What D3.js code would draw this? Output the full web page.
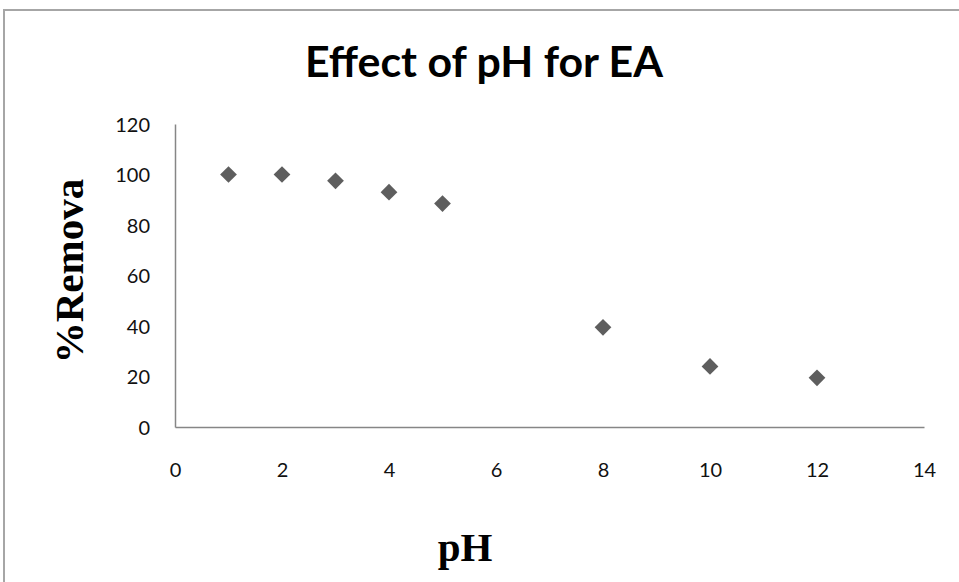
<!DOCTYPE html>
<html><head><meta charset="utf-8">
<script src="https://cdn.jsdelivr.net/npm/d3@7/dist/d3.min.js"></script>
<style>body{margin:0;background:#fff;overflow:hidden}svg{display:block}</style>
</head><body>
<script>
const phValues = [1, 2, 3, 4, 5, 8, 10, 12];
const removalValues = [100, 100, 97.5, 93, 88.5, 39.5, 24, 19.5];
const xTicks = [0, 2, 4, 6, 8, 10, 12, 14];
const yTicks = [0, 20, 40, 60, 80, 100, 120];
const titleText = "Effect of pH for EA";
const xLabel = "pH";
const yLabel = "%Remova";

const W = 959, H = 582;
const svg = d3.select("body").append("svg").attr("width", W).attr("height", H);

svg.append("rect").attr("x", 4).attr("y", 10).attr("width", 1000).attr("height", 700)
  .attr("fill", "#fff").attr("stroke", "#a6a6a6").attr("stroke-width", 2);

const x = d3.scaleLinear().domain([0, 14]).range([175, 924]);
const y = d3.scaleLinear().domain([0, 120]).range([427, 124]);

const xAxis = svg.append("g").attr("transform", "translate(0,427)")
  .call(d3.axisBottom(x).tickValues(xTicks).tickSize(0).tickPadding(34));
const yAxis = svg.append("g").attr("transform", "translate(175,0)")
  .call(d3.axisLeft(y).tickValues(yTicks).tickSize(0).tickPadding(25));
[xAxis, yAxis].forEach(g => {
  g.select(".domain").attr("stroke", "#868686").attr("stroke-width", 1.5);
  g.selectAll("text").attr("font-family", "Lato, sans-serif").attr("font-size", 20).attr("fill", "#111");
});
xAxis.selectAll("text").attr("dy", "0.35em").attr("y", 43);
yAxis.selectAll("text").attr("dy", "0.36em");

svg.append("g").selectAll("path").data(phValues.map((p, i) => [p, removalValues[i]]))
  .join("path")
  .attr("d", d3.symbol(d3.symbolSquare, 140)())
  .attr("transform", d => `translate(${x(d[0])},${y(d[1])}) rotate(45)`)
  .attr("fill", "#5e5e5e");

svg.append("text").attr("x", 484).attr("y", 77).attr("text-anchor", "middle")
  .attr("font-family", "Lato, sans-serif").attr("font-weight", 700).attr("font-size", 42)
  .attr("textLength", 358).attr("lengthAdjust", "spacingAndGlyphs")
  .text(titleText);

svg.append("text").attr("x", 465).attr("y", 561).attr("text-anchor", "middle")
  .attr("font-family", "'Liberation Serif', serif").attr("font-weight", 700).attr("font-size", 41)
  .text(xLabel);

svg.append("text").attr("transform", "translate(83,271) rotate(-90)").attr("text-anchor", "middle")
  .attr("font-family", "'Liberation Serif', serif").attr("font-weight", 700).attr("font-size", 41)
  .text(yLabel);
</script>
</body></html>
